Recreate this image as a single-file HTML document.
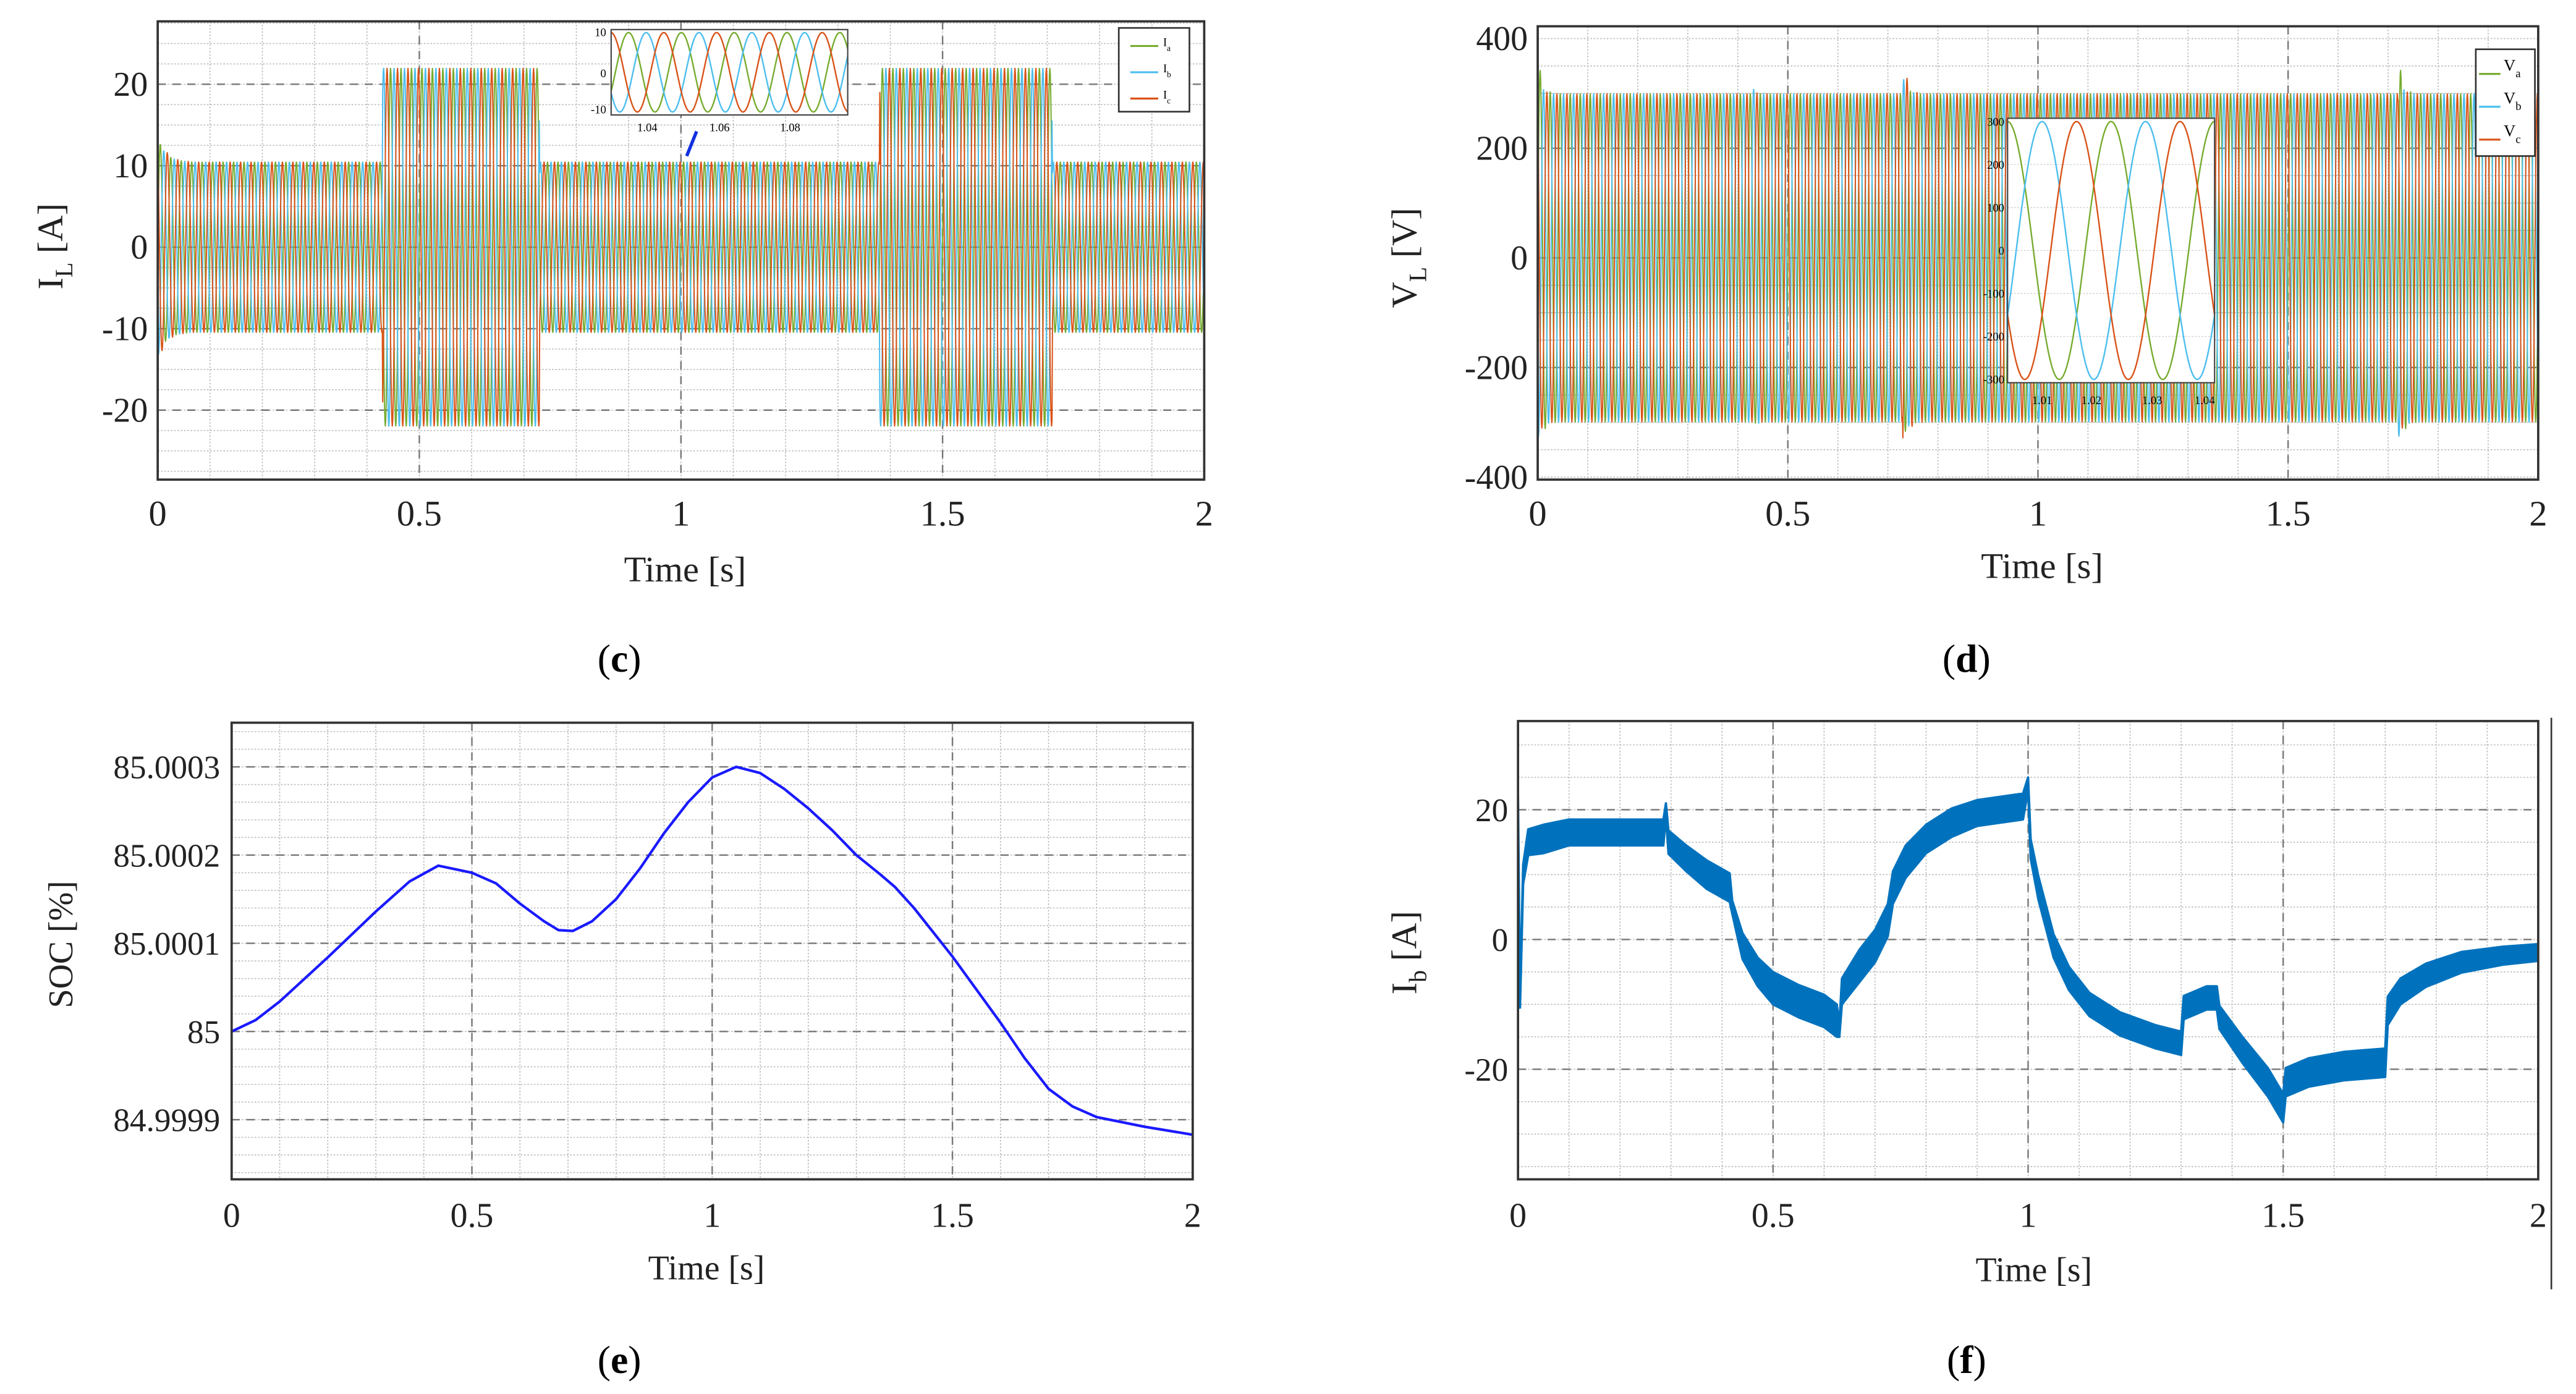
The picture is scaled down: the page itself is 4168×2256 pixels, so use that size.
<!DOCTYPE html>
<html><head><meta charset="utf-8"><style>
html,body{margin:0;padding:0;background:#fff;}
svg{display:block;font-family:"Liberation Serif",serif;}
</style></head><body>
<svg id="fig" width="4168" height="2256" viewBox="0 0 1568 848.7" preserveAspectRatio="none" xmlns="http://www.w3.org/2000/svg">
<defs>
<clipPath id="clipC"><rect x="96" y="13" width="637" height="279"/></clipPath>
<clipPath id="clipD"><rect x="936" y="16" width="609" height="276"/></clipPath>
<clipPath id="clipE"><rect x="141" y="440" width="585" height="278"/></clipPath>
<clipPath id="clipF"><rect x="924" y="439" width="621" height="279"/></clipPath>
<clipPath id="clipCi"><rect x="372" y="18" width="144" height="52"/></clipPath>
</defs>
<g id="root"></g>
</svg>
<script>
// ---- data ----
const cSegStart=[0,0.43,0.73,1.38,1.71];
const cSegAmp=[10.5,22,10.5,22,10.5];
const cXTicks=[0,0.5,1,1.5,2];
const cYTicks=[20,10,0,-10,-20];
const dAmp=[300];
const dSpikeT=[0,0.43,0.73,1.72];
const dSpikeV=[380,310,380,380];
const dYTicks=[400,200,0,-200,-400];
const eTimes=[0,0.05,0.1,0.2,0.3,0.37,0.43,0.5,0.55,0.6,0.65,0.68,0.71,0.75,0.8,0.85,0.9,0.95,1.0,1.05,1.1,1.15,1.2,1.25,1.3,1.35,1.38,1.42,1.5,1.6,1.65,1.7,1.75,1.8,1.9,2.0];
const eVals=[0,0.13,0.34,0.84,1.36,1.7,1.88,1.8,1.68,1.45,1.25,1.15,1.14,1.25,1.5,1.85,2.25,2.6,2.88,3.0,2.93,2.75,2.53,2.28,2.0,1.78,1.64,1.4,0.85,0.1,-0.3,-0.65,-0.85,-0.97,-1.08,-1.17];
const eYTicks=[3,2,1,0,-1];
const eYLabels=["85.0003","85.0002","85.0001","85","84.9999"];
const fTimes=[0,0.004,0.01,0.02,0.05,0.1,0.2,0.285,0.29,0.295,0.33,0.37,0.415,0.42,0.44,0.47,0.5,0.55,0.6,0.625,0.63,0.635,0.67,0.7,0.725,0.735,0.76,0.8,0.85,0.9,0.99,1.0,1.005,1.02,1.05,1.08,1.12,1.18,1.25,1.3,1.305,1.35,1.37,1.375,1.42,1.47,1.5,1.505,1.55,1.62,1.7,1.705,1.73,1.78,1.85,1.93,2.0];
const fMean=[22,-10,10,15,15.5,16.5,16.5,16.5,20,15,12.5,10,8,5,-1,-5,-7.5,-9.5,-11,-12.5,-14,-8,-4,-1,3,8,12,15.5,18,19.5,20.5,24,14,8,-1,-6,-10,-13,-15,-16,-10.5,-9,-9,-12,-17,-22,-26,-22,-20.5,-19.5,-19,-11,-8,-5.5,-3.5,-2.5,-2];
const fBand=[0.5,0.5,1.5,2,2.2,2,2,2,1,1.8,2,2.2,2.2,1,2,2.2,2.5,2.5,2.5,2.5,1,2,2.5,2.5,2.5,2.5,2.5,2.2,2.2,2,2,1,1.5,1.8,1.8,1.8,1.8,1.8,1.8,1.8,1.8,1.8,1.8,1.8,2,2.2,2.2,2.2,2.2,2.2,2.2,2.2,2,1.8,1.6,1.4,1.3];
const fYTicks=[20,0,-20];

const NS="http://www.w3.org/2000/svg";
const root=document.getElementById('root');
function el(tag,attrs,parent,text){const e=document.createElementNS(NS,tag);for(const k in attrs)e.setAttribute(k,attrs[k]);if(text!==undefined)e.textContent=text;(parent||root).appendChild(e);return e;}
function lin(d0,d1,r0,r1){return v=>r0+(v-d0)/(d1-d0)*(r1-r0);}
const COLS=["#77ac30","#4dbeee","#d95319"];

function grid(g,box,sx,sy,xMinor,yMinor,xMajor,yMajor){
  xMinor.forEach(v=>{const l=el('line',{x1:sx(v),x2:sx(v),y1:box.y,y2:box.y+box.h,stroke:'#bbb','stroke-width':0.6,'stroke-dasharray':'1 1'},g);});
  yMinor.forEach(v=>{const l=el('line',{x1:box.x,x2:box.x+box.w,y1:sy(v),y2:sy(v),stroke:'#bbb','stroke-width':0.6,'stroke-dasharray':'1 1'},g);});
  xMajor.forEach(v=>{const l=el('line',{x1:sx(v),x2:sx(v),y1:box.y,y2:box.y+box.h,stroke:'#777','stroke-width':0.9,'stroke-dasharray':'5 4'},g);});
  yMajor.forEach(v=>{const l=el('line',{x1:box.x,x2:box.x+box.w,y1:sy(v),y2:sy(v),stroke:'#777','stroke-width':0.9,'stroke-dasharray':'5 4'},g);});
}
function frame(g,box){const r=el('rect',{x:box.x,y:box.y,width:box.w,height:box.h,fill:'none',stroke:'#333','stroke-width':1.4},g);}
function xTickLabels(g,sx,y,size){cXTicks.forEach(v=>{const t=el('text',{x:sx(v),y:y,'font-size':size,'text-anchor':'middle',fill:'#222'},g,String(v));});}
function range(a,b,s){const r=[];for(let v=a;v<=b+1e-9;v+=s)r.push(+v.toFixed(6));return r;}
function phaseLines(g,clip,sx,sy,ampFn,t0,t1,freq,n,sw){
  COLS.forEach((c,k)=>{let pts=[];for(let i=0;i<=n;i++){const t=t0+(t1-t0)*i/n;const v=ampFn(t,k)*Math.sin(2*Math.PI*freq*t-k*2*Math.PI/3);pts.push(sx(t).toFixed(2)+','+sy(v).toFixed(2));}
    const p=el('polyline',{points:pts.join(' '),fill:'none',stroke:c,'stroke-width':sw,'clip-path':clip},g);});
}

// ===== Panel c =====
(function(){
 const g=el('g',{});
 const box={x:96,y:13,w:637,h:279};
 const sx=lin(0,2,96,733), sy=lin(0,20,150.5,51.3);
 grid(g,box,sx,sy,range(0,2,0.1),range(-27.5,27.5,2.5),[0.5,1,1.5],[20,10,0,-10,-20]);
 function amp(t,k){let a=cSegAmp[0];for(let i=0;i<cSegStart.length;i++)if(t>=cSegStart[i])a=cSegAmp[i];if(t<0.06)a+=3*Math.exp(-t/0.015)*(k===2?1.3:1);return a;}
 phaseLines(g,'url(#clipC)',sx,sy,amp,0,2,50,2400,0.75);
 frame(g,box);
 cYTicks.forEach(v=>{const t=el('text',{x:90,y:sy(v)+7,'font-size':21,'text-anchor':'end',fill:'#222'},g,String(v));});
 xTickLabels(g,sx,320,22);
 let t=el('text',{x:417,y:354,'font-size':22,'text-anchor':'middle',fill:'#222'},g,'Time [s]');
 t=el('text',{transform:'translate(38,150) rotate(-90)','font-size':22,'text-anchor':'middle',fill:'#222'},g);
 el('tspan',{},t,'I');el('tspan',{'font-size':15,dy:6},t,'L');el('tspan',{dy:-6},t,' [A]');
 const ib={x:372,y:18,w:144,h:52};const ig=el('g',{},g);
 el('rect',{x:ib.x,y:ib.y,width:ib.w,height:ib.h,fill:'#fff'},ig);
 const isx=lin(1.03,1.1,ib.x,ib.x+ib.w), isy=lin(0,10,44,21);
 phaseLines(ig,'url(#clipCi)',isx,isy,()=>10.5,1.03,1.1,64,600,0.9);
 el('rect',{x:ib.x,y:ib.y,width:ib.w,height:ib.h,fill:'none',stroke:'#444','stroke-width':0.8},ig);
 [[10,22],[0,47],[-10,69]].forEach(a=>el('text',{x:369,y:a[1],'font-size':7,'text-anchor':'end'},ig,String(a[0])));
 [[1.04,394],[1.06,438],[1.08,481]].forEach(a=>el('text',{x:a[1],y:80,'font-size':7,'text-anchor':'middle'},ig,String(a[0])));
 el('line',{x1:418,y1:95,x2:424,y2:80,stroke:'#1030e0','stroke-width':2},g);
 const lg=el('g',{},g);
 el('rect',{x:681,y:17,width:43,height:51,fill:'#fff',stroke:'#333','stroke-width':1},lg);
 ['a','b','c'].forEach((s,k)=>{const yy=28+k*16;const e=el('g',{},lg);
   el('line',{x1:688,x2:705,y1:yy,y2:yy,stroke:COLS[k],'stroke-width':1.2},e);
   const tt=el('text',{x:708,y:yy,'font-size':7},e);el('tspan',{},tt,'I');el('tspan',{'font-size':5,dy:3},tt,s);});
 t=el('text',{x:377,y:409,'font-size':24,'text-anchor':'middle'},g);
 el('tspan',{},t,'(');el('tspan',{'font-weight':'bold'},t,'c');el('tspan',{},t,')');
})();

// ===== Panel d =====
(function(){
 const g=el('g',{});
 const box={x:936,y:16,w:609,h:276};
 const sx=lin(0,2,936,1545), sy=lin(0,400,157,23.5);
 grid(g,box,sx,sy,range(0,2,0.1),range(-400,400,50),[0.5,1,1.5],[200,0,-200]);
 function amp(t,k){let a=dAmp[0];for(let i=0;i<dSpikeT.length;i++){const dt=t-dSpikeT[i];if(dt>=0&&dt<0.05)a+=(dSpikeV[i]-dAmp[0])*Math.exp(-dt/0.008)*(k===i%3?1:0.4);}return a;}
 phaseLines(g,'url(#clipD)',sx,sy,amp,0,2,50,2400,0.75);
 frame(g,box);
 dYTicks.forEach(v=>{const t=el('text',{x:930,y:sy(v)+7,'font-size':21,'text-anchor':'end',fill:'#222'},g,String(v));});
 xTickLabels(g,sx,320,22);
 let t=el('text',{x:1243,y:352,'font-size':22,'text-anchor':'middle',fill:'#222'},g,'Time [s]');
 t=el('text',{transform:'translate(862,157) rotate(-90)','font-size':22,'text-anchor':'middle',fill:'#222'},g);
 el('tspan',{},t,'V');el('tspan',{'font-size':15,dy:6},t,'L');el('tspan',{dy:-6},t,' [V]');
 const ib={x:1222,y:72,w:126,h:161};const ig=el('g',{},g);
 el('rect',{x:ib.x,y:ib.y,width:ib.w,height:ib.h,fill:'#fff'},ig);
 const isx=lin(1.005,1.045,ib.x,ib.x+ib.w), isy=lin(0,300,152.5,74);
 [-200,-100,0,100,200].forEach(v=>el('line',{x1:ib.x,x2:ib.x+ib.w,y1:isy(v),y2:isy(v),stroke:'#ccc','stroke-width':0.5,'stroke-dasharray':'1 1'},ig));
 phaseLines(ig,'none',isx,isy,()=>300,1.005,1.045,50,400,0.9);
 el('rect',{x:ib.x,y:ib.y,width:ib.w,height:ib.h,fill:'none',stroke:'#444','stroke-width':0.8},ig);
 [300,200,100,0,-100,-200,-300].forEach(v=>el('text',{x:1220,y:isy(v)+2.5,'font-size':7,'text-anchor':'end'},ig,String(v)));
 [[1.01,1243],[1.02,1273],[1.03,1310],[1.04,1342]].forEach(a=>el('text',{x:a[1],y:246,'font-size':7,'text-anchor':'middle'},ig,String(a[0])));
 const lg=el('g',{},g);
 el('rect',{x:1507,y:30,width:36,height:65,fill:'#fff',stroke:'#333','stroke-width':1},lg);
 ['a','b','c'].forEach((s,k)=>{const yy=43+k*20;const e=el('g',{},lg);
   el('line',{x1:1509,x2:1522,y1:yy+2,y2:yy+2,stroke:COLS[k],'stroke-width':1.2},e);
   const tt=el('text',{x:1524,y:yy,'font-size':10},e);el('tspan',{},tt,'V');el('tspan',{'font-size':7,dy:4},tt,s);});
 t=el('text',{x:1197,y:409,'font-size':24,'text-anchor':'middle'},g);
 el('tspan',{},t,'(');el('tspan',{'font-weight':'bold'},t,'d');el('tspan',{},t,')');
})();

// ===== Panel e =====
(function(){
 const g=el('g',{});
 const box={x:141,y:440,w:585,h:278};
 const sx=lin(0,2,141,726), sy=lin(0,1,628,574.3);
 grid(g,box,sx,sy,range(0,2,0.1),range(-1.6,3.4,0.2),[0.5,1,1.5],[3,2,1,0,-1]);
 const pts=eTimes.map((t,i)=>sx(t).toFixed(2)+','+sy(eVals[i]).toFixed(2)).join(' ');
 const p=el('polyline',{points:pts,fill:'none',stroke:'#1a1aff','stroke-width':1.6,'stroke-linejoin':'round','clip-path':'url(#clipE)'},g);
 frame(g,box);
 eYTicks.forEach((v,i)=>{const t=el('text',{x:134,y:sy(v)+7,'font-size':20,'text-anchor':'end',fill:'#222'},g,eYLabels[i]);});
 xTickLabels(g,sx,747,21);
 let t=el('text',{x:430,y:779,'font-size':21,'text-anchor':'middle',fill:'#222'},g,'Time [s]');
 t=el('text',{transform:'translate(44,575) rotate(-90)','font-size':21,'text-anchor':'middle',fill:'#222'},g,'SOC [%]');
 t=el('text',{x:377,y:836,'font-size':24,'text-anchor':'middle'},g);
 el('tspan',{},t,'(');el('tspan',{'font-weight':'bold'},t,'e');el('tspan',{},t,')');
})();

// ===== Panel f =====
(function(){
 const g=el('g',{});
 const box={x:924,y:439,w:621,h:279};
 const sx=lin(0,2,924,1545), sy=lin(0,20,572,493);
 grid(g,box,sx,sy,range(0,2,0.1),range(-35,30,5),[0.5,1,1.5],[20,0,-20]);
 const up=fTimes.map((t,i)=>sx(t).toFixed(2)+','+sy(fMean[i]+fBand[i]).toFixed(2));
 const lo=fTimes.map((t,i)=>sx(t).toFixed(2)+','+sy(fMean[i]-fBand[i]).toFixed(2)).reverse();
 const b=el('polygon',{points:up.concat(lo).join(' '),fill:'#0072bd',stroke:'#0072bd','stroke-width':1.4,'stroke-linejoin':'round','clip-path':'url(#clipF)'},g);
 frame(g,box);
 fYTicks.forEach(v=>{const t=el('text',{x:918,y:sy(v)+7,'font-size':20,'text-anchor':'end',fill:'#222'},g,String(v));});
 xTickLabels(g,sx,747,21);
 let t=el('text',{x:1238,y:780,'font-size':21,'text-anchor':'middle',fill:'#222'},g,'Time [s]');
 t=el('text',{transform:'translate(862,580) rotate(-90)','font-size':22,'text-anchor':'middle',fill:'#222'},g);
 el('tspan',{},t,'I');el('tspan',{'font-size':15,dy:6},t,'b');el('tspan',{dy:-6},t,' [A]');
 el('line',{x1:1553,x2:1553,y1:437,y2:785,stroke:'#333','stroke-width':1},g);
 t=el('text',{x:1197,y:836,'font-size':24,'text-anchor':'middle'},g);
 el('tspan',{},t,'(');el('tspan',{'font-weight':'bold'},t,'f');el('tspan',{},t,')');
})();
</script>
</body></html>
